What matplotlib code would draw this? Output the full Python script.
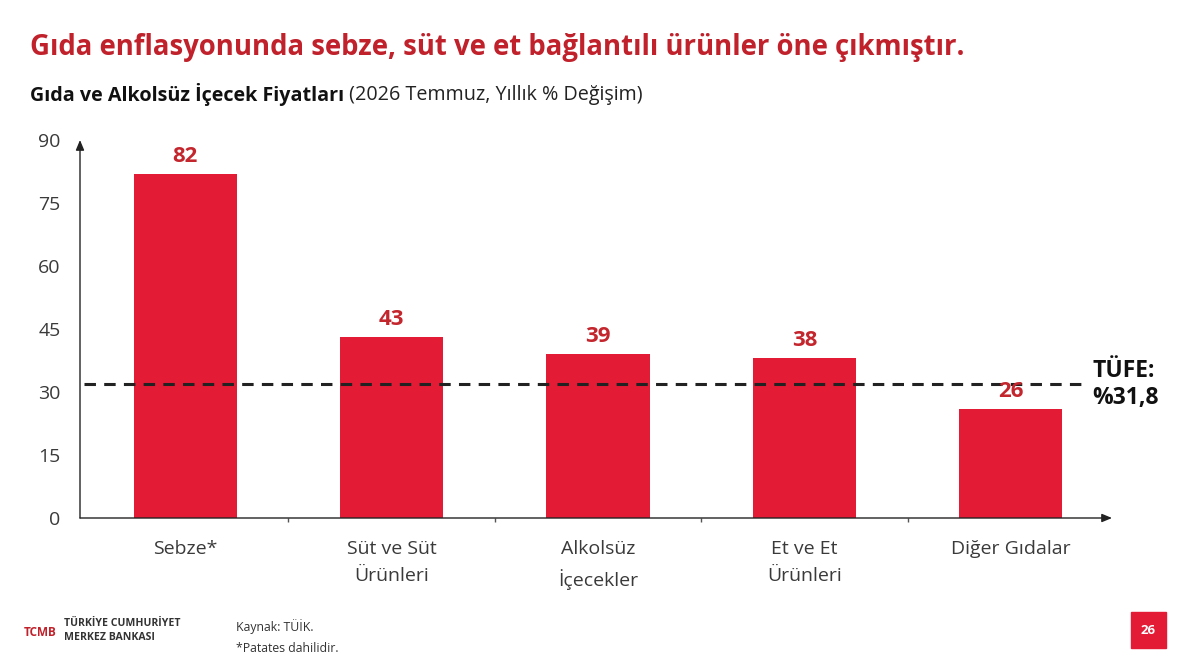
import matplotlib
matplotlib.use("Agg")
import matplotlib.pyplot as plt
from matplotlib.patches import Rectangle

plt.rcParams['font.family'] = ['Open Sans', 'DejaVu Sans']

categories = ["Sebze*", "Süt ve Süt\nÜrünleri", "Alkolsüz\nİçecekler", "Et ve Et\nÜrünleri", "Diğer Gıdalar"]
values = [82, 43, 39, 38, 26]
value_labels = ["82", "43", "39", "38", "26"]
yticks = [0, 15, 30, 45, 60, 75, 90]
tufe = 31.8
tufe_label = "TÜFE:\n%31,8"

title = "Gıda enflasyonunda sebze, süt ve et bağlantılı ürünler öne çıkmıştır."
subtitle_bold = "Gıda ve Alkolsüz İçecek Fiyatları"
subtitle_reg = " (2026 Temmuz, Yıllık % Değişim)"
source = "Kaynak: TÜİK."
note = "*Patates dahilidir."
page = "26"

BAR = "#E31B35"
LABEL = "#C4262E"
TITLE = "#C0212B"
GREY = "#3a3a3a"

W, H = 1200, 666
fig = plt.figure(figsize=(12, 6.66), dpi=100)
fig.patch.set_facecolor("white")

def fx(px):
    return px / W
def fy(py):
    return 1 - py / H

ax = fig.add_axes([fx(80), fy(518), fx(1112) - fx(80), fy(140) - fy(518)])
x = list(range(len(categories)))
ax.bar(x, values, width=0.5, color=BAR, zorder=2)
ax.set_xlim(-0.51, 4.49)
ax.set_ylim(0, 90)
for s in ax.spines.values():
    s.set_visible(False)
ax.set_yticks(yticks)
ax.set_yticklabels([str(v) for v in yticks], fontsize=14, color=GREY)
ax.tick_params(axis='y', length=0, pad=14)
ax.set_xticks(x)
ax.set_xticklabels(categories, fontsize=14, color=GREY, linespacing=1.62)
ax.tick_params(axis='x', length=0, pad=16)
# minor ticks at category boundaries
ax.set_xticks([i + 0.5 for i in range(len(categories) - 1)], minor=True)
ax.tick_params(axis='x', which='minor', length=3, width=1, color="#555555", direction='out')

# axes arrows
ax.annotate("", xy=(0, 1.0), xytext=(0, 0), xycoords='axes fraction',
            arrowprops=dict(arrowstyle="-|>,head_length=0.6,head_width=0.25", color="#222222", lw=1.0,
                            shrinkA=0, shrinkB=0), annotation_clip=False)
ax.annotate("", xy=(1.0, 0), xytext=(0, 0), xycoords='axes fraction',
            arrowprops=dict(arrowstyle="-|>,head_length=0.6,head_width=0.25", color="#222222", lw=1.0,
                            shrinkA=0, shrinkB=0), annotation_clip=False)

# value labels
for xi, v, lab in zip(x, values, value_labels):
    ax.annotate(lab, (xi, v), xytext=(0, 5), textcoords='offset points', ha='center', va='bottom',
                fontsize=16, fontweight='bold', color=LABEL, zorder=4)

# TÜFE line
ax.axhline(tufe, xmin=(84 - 80) / (1112 - 80), xmax=(1085 - 80) / (1112 - 80), color="#222222", lw=2.2,
           linestyle=(0, (3.75, 2.7)), zorder=3)
ax.annotate(tufe_label, (1.0, tufe), xycoords=('axes fraction', 'data'), xytext=(-14, 0),
            textcoords='offset points', ha='left', va='center', fontsize=16.5, fontweight='bold',
            color="#111111", linespacing=1.2, annotation_clip=False)

# titles
fig.text(fx(30), fy(47), title, fontsize=19.8, fontweight='bold', color=TITLE, ha='left', va='center')
t1 = fig.text(fx(30), fy(95), subtitle_bold, fontsize=14.2, fontweight='bold', color="#111111",
              ha='left', va='center')
fig.canvas.draw()
bb = t1.get_window_extent()
fig.text(bb.x1 / W, fy(95), subtitle_reg, fontsize=14.2, color="#222222", ha='left', va='center')

# footer logo (approximation)
fig.text(fx(40), fy(632), "TCMB", fontsize=8.5, fontweight='bold', color=TITLE, ha='center', va='center')
fig.text(fx(64), fy(624), "TÜRKİYE CUMHURİYET", fontsize=7.6, fontweight='bold', color="#333333",
         ha='left', va='center')
fig.text(fx(64), fy(637), "MERKEZ BANKASI", fontsize=7.6, fontweight='bold', color="#333333",
         ha='left', va='center')
fig.text(fx(236), fy(627), source, fontsize=8.8, color="#333333", ha='left', va='center')
fig.text(fx(236), fy(648), note, fontsize=8.8, color="#333333", ha='left', va='center')

# page number box
fig.patches.append(Rectangle((fx(1131), fy(648)), fx(1166) - fx(1131), fy(612) - fy(648),
                             transform=fig.transFigure, color=BAR, zorder=1))
fig.text(fx(1148.5), fy(630), page, fontsize=9.5, fontweight='bold', color="white",
         ha='center', va='center', zorder=2)

fig.savefig("out.png", dpi=100, facecolor="white")
